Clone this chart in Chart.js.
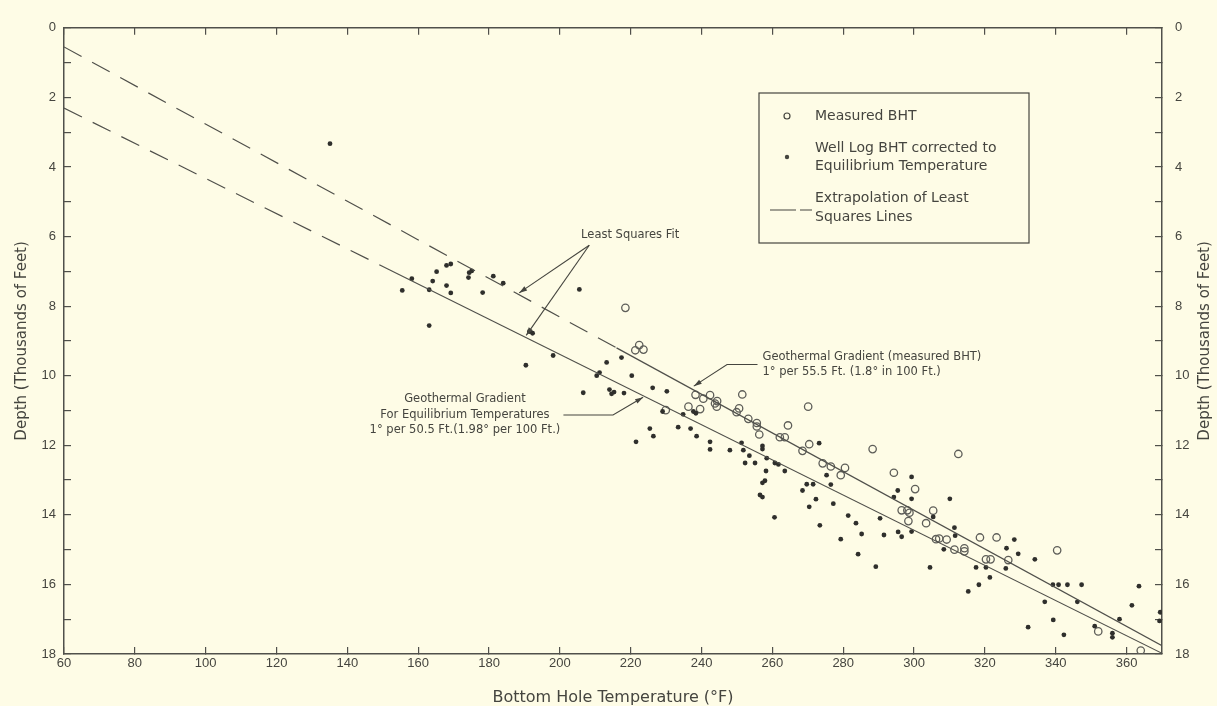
<!DOCTYPE html>
<html>
<head>
<meta charset="utf-8">
<script src="https://cdn.jsdelivr.net/npm/chart.js@4.4.1/dist/chart.umd.min.js"></script>
<style>
  html, body { margin: 0; padding: 0; background: #fefce6; }
  canvas { display: block; }
</style>
</head>
<body>
<canvas id="bht" width="1217" height="706"></canvas>
<script>
// Measured BHT (open circles): temperature (°F) / depth (thousands of ft)
const measuredT = [218.5, 221.3, 222.4, 223.6, 229.9, 236.3, 238.3, 239.6, 240.5, 242.4,
  243.8, 244.4, 244.3, 249.9, 250.6, 251.5, 253.2, 255.6, 255.6, 256.3,
  262.1, 263.5, 264.4, 268.5, 270.1, 270.4, 274.2, 276.5, 279.3, 280.5,
  288.3, 294.3, 296.5, 298.1, 298.7, 298.4, 300.3, 303.4, 305.4, 306.2,
  307.1, 309.2, 311.4, 312.5, 314.2, 314.2, 318.6, 320.3, 321.6, 323.3,
  326.6, 340.4, 352.0, 364.0];
const measuredD = [8.05, 9.27, 9.12, 9.25, 10.99, 10.89, 10.55, 10.96, 10.66, 10.56,
  10.80, 10.73, 10.89, 11.05, 10.94, 10.54, 11.24, 11.36, 11.46, 11.69,
  11.77, 11.77, 11.43, 12.16, 10.89, 11.97, 12.52, 12.61, 12.86, 12.65,
  12.11, 12.79, 13.87, 13.87, 13.94, 14.18, 13.26, 14.24, 13.88, 14.70,
  14.68, 14.71, 15.00, 12.25, 14.96, 15.05, 14.65, 15.28, 15.28, 14.65,
  15.30, 15.02, 17.35, 17.90];

// Well log BHT corrected to equilibrium (dots)
const equilT = [135.1, 155.5, 158.2, 163.1, 164.1, 165.2, 168.0, 169.2, 168.0, 169.2,
  174.2, 174.4, 175.1, 178.2, 181.2, 184.0, 163.1, 191.4, 192.3, 198.1,
  190.4, 205.5, 206.6, 210.4, 211.2, 213.2, 217.4, 214.0, 214.6, 215.3,
  218.1, 220.3, 226.2, 230.2, 229.0, 234.8, 237.7, 238.4, 225.4, 226.4,
  221.5, 233.4, 236.9, 238.6, 242.4, 242.4, 248.0, 251.3, 251.8, 253.5,
  252.3, 255.1, 257.2, 257.2, 258.4, 258.2, 257.2, 257.9, 256.5, 257.2,
  260.7, 261.7, 263.5, 268.5, 269.7, 260.6, 270.4, 273.2, 271.5, 272.3,
  275.3, 276.5, 277.2, 273.4, 279.3, 281.4, 283.6, 285.2, 284.2, 289.2,
  290.4, 291.5, 294.3, 295.4, 295.5, 296.5, 299.3, 299.3, 299.3, 304.5,
  305.4, 308.4, 310.1, 311.4, 311.6, 315.3, 317.5, 318.3, 320.3, 321.4,
  326.1, 325.9, 328.3, 329.4, 334.1, 336.9, 332.2, 339.2, 340.8, 343.3,
  347.3, 346.1, 339.3, 342.3, 351.0, 356.0, 356.0, 358.0, 361.5, 363.5,
  369.3, 369.5];
const equilD = [3.33, 7.55, 7.21, 7.53, 7.28, 7.01, 6.83, 6.79, 7.41, 7.62,
  7.18, 7.04, 6.99, 7.61, 7.14, 7.34, 8.56, 8.73, 8.78, 9.42,
  9.70, 7.52, 10.49, 10.00, 9.91, 9.62, 9.48, 10.40, 10.52, 10.47,
  10.50, 10.00, 10.35, 10.45, 11.03, 11.11, 11.03, 11.08, 11.52, 11.74,
  11.90, 11.48, 11.52, 11.74, 11.90, 12.12, 12.14, 11.93, 12.14, 12.30,
  12.51, 12.51, 12.02, 12.11, 12.37, 12.74, 13.08, 13.02, 13.43, 13.49,
  12.51, 12.55, 12.74, 13.30, 13.12, 14.07, 13.77, 11.94, 13.12, 13.55,
  12.86, 13.13, 13.68, 14.30, 14.70, 14.02, 14.24, 14.55, 15.13, 15.49,
  14.10, 14.58, 13.49, 13.30, 14.49, 14.63, 12.91, 13.54, 14.48, 15.51,
  14.06, 14.99, 13.54, 14.37, 14.60, 16.20, 15.51, 16.01, 15.51, 15.80,
  14.96, 15.54, 14.71, 15.12, 15.28, 16.50, 17.23, 16.01, 16.01, 16.01,
  16.01, 16.50, 17.02, 17.45, 17.20, 17.40, 17.52, 17.00, 16.60, 16.05,
  17.05, 16.80];

// Least squares lines (solid part) and their extrapolations (dashed)
const measuredFitT = [216, 370];
const measuredFitD = [9.20, 17.76];
const measuredExtT = [60, 216];
const measuredExtD = [0.55, 9.20];
const equilFitT = [152, 370];
const equilFitD = [6.96, 17.98];
const equilExtT = [60, 152];
const equilExtD = [2.31, 6.96];

const xTickValues = [60, 80, 100, 120, 140, 160, 180, 200, 220, 240, 260, 280, 300, 320, 340, 360];
const yTickValues = [0, 1, 2, 3, 4, 5, 6, 7, 8, 9, 10, 11, 12, 13, 14, 15, 16, 17, 18];

const ink = '#45453f';
const axisInk = '#50504b';

const pts = (xs, ys) => xs.map((v, i) => ({ x: v, y: ys[i] }));

const tickFont = { family: 'Liberation Sans', size: 13 };
const titleFont = { family: 'DejaVu Sans', size: 15, lineHeight: 1 };

const frame = (pos) => ({
  position: pos,
  grid: { drawOnChartArea: false, drawTicks: true, tickLength: -7, color: axisInk, lineWidth: 1.2 },
  border: { display: true, color: axisInk, width: 1.5 },
});

const notesPlugin = {
  id: 'notes',
  afterDatasetsDraw(chart) {
    const { ctx } = chart;
    const sx = chart.scales.x;
    const sy = chart.scales.y;
    const px = (t) => sx.getPixelForValue(t);
    const py = (d) => sy.getPixelForValue(d);

    ctx.save();
    ctx.strokeStyle = ink;
    ctx.fillStyle = ink;
    ctx.lineWidth = 1.1;
    ctx.textBaseline = 'middle';

    const arrow = (path) => {
      ctx.beginPath();
      path.forEach(([t, d], i) => {
        if (i === 0) ctx.moveTo(px(t), py(d));
        else ctx.lineTo(px(t), py(d));
      });
      ctx.stroke();
      const [t1, d1] = path[path.length - 2];
      const [t2, d2] = path[path.length - 1];
      const x2 = px(t2), y2 = py(d2);
      const a = Math.atan2(y2 - py(d1), x2 - px(t1));
      ctx.beginPath();
      ctx.moveTo(x2, y2);
      ctx.lineTo(x2 - 8 * Math.cos(a) + 2.5 * Math.sin(a), y2 - 8 * Math.sin(a) - 2.5 * Math.cos(a));
      ctx.lineTo(x2 - 8 * Math.cos(a) - 2.5 * Math.sin(a), y2 - 8 * Math.sin(a) + 2.5 * Math.cos(a));
      ctx.closePath();
      ctx.fill();
    };

    // Least Squares Fit
    ctx.font = '11.5px "DejaVu Sans"';
    ctx.textAlign = 'left';
    ctx.fillText('Least Squares Fit', px(206), py(5.95));
    arrow([[208.3, 6.25], [188.5, 7.62]]);
    arrow([[208.3, 6.25], [190.5, 8.84]]);

    // measured BHT gradient
    ctx.fillText('Geothermal Gradient (measured BHT)', px(257.2), py(9.45));
    ctx.fillText('1° per 55.5 Ft. (1.8° in 100 Ft.)', px(257.2), py(9.9));
    arrow([[255.8, 9.68], [247.2, 9.68], [237.8, 10.3]]);

    // equilibrium gradient
    ctx.textAlign = 'center';
    ctx.fillText('Geothermal Gradient', px(173.2), py(10.68));
    ctx.fillText('For Equilibrium Temperatures', px(173.2), py(11.12));
    ctx.fillText('1° per 50.5 Ft.(1.98° per 100 Ft.)', px(173.2), py(11.55));
    arrow([[201, 11.13], [215, 11.13], [223.5, 10.62]]);

    // legend box
    const lx = 759, ly = 93, lw = 270, lh = 150;
    ctx.lineWidth = 1.2;
    ctx.strokeRect(lx, ly, lw, lh);
    ctx.font = '14px "DejaVu Sans"';
    ctx.textAlign = 'left';
    ctx.beginPath();
    ctx.arc(lx + 28, ly + 23, 3, 0, Math.PI * 2);
    ctx.stroke();
    ctx.fillText('Measured BHT', lx + 56, ly + 23);
    ctx.beginPath();
    ctx.arc(lx + 28, ly + 64, 2.2, 0, Math.PI * 2);
    ctx.fill();
    ctx.fillText('Well Log BHT corrected to', lx + 56, ly + 55);
    ctx.fillText('Equilibrium Temperature', lx + 56, ly + 73);
    ctx.beginPath();
    ctx.moveTo(lx + 11, ly + 117);
    ctx.lineTo(lx + 37, ly + 117);
    ctx.moveTo(lx + 41, ly + 117);
    ctx.lineTo(lx + 53, ly + 117);
    ctx.stroke();
    ctx.fillText('Extrapolation of Least', lx + 56, ly + 105);
    ctx.fillText('Squares Lines', lx + 56, ly + 124);

    // right axis title, reading bottom to top like the left one
    ctx.font = '15px "DejaVu Sans"';
    ctx.textAlign = 'center';
    ctx.translate(1205, (chart.chartArea.top + chart.chartArea.bottom) / 2);
    ctx.rotate(-Math.PI / 2);
    ctx.fillText('Depth (Thousands of Feet)', 0, 0);
    ctx.restore();
  },
};

new Chart(document.getElementById('bht'), {
  type: 'scatter',
  data: {
    datasets: [
      {
        label: 'Least squares (measured)',
        data: pts(measuredFitT, measuredFitD),
        showLine: true, pointRadius: 0, borderColor: axisInk, borderWidth: 1.2,
      },
      {
        label: 'Extrapolation (measured)',
        data: pts(measuredExtT, measuredExtD),
        showLine: true, pointRadius: 0, borderColor: axisInk, borderWidth: 1.2, borderDash: [20, 12],
      },
      {
        label: 'Least squares (equilibrium)',
        data: pts(equilFitT, equilFitD),
        showLine: true, pointRadius: 0, borderColor: axisInk, borderWidth: 1.2,
      },
      {
        label: 'Extrapolation (equilibrium)',
        data: pts(equilExtT, equilExtD),
        showLine: true, pointRadius: 0, borderColor: axisInk, borderWidth: 1.2, borderDash: [20, 12],
      },
      {
        label: 'Well Log BHT corrected to Equilibrium Temperature',
        data: pts(equilT, equilD),
        pointRadius: 2.4, backgroundColor: '#2f2f2c', borderWidth: 0,
      },
      {
        label: 'Measured BHT',
        data: pts(measuredT, measuredD),
        pointRadius: 3.7, backgroundColor: 'rgba(0,0,0,0)', borderColor: '#5e5e59', borderWidth: 1.3,
      },
    ],
  },
  options: {
    responsive: false,
    animation: false,
    layout: { padding: { top: 15, left: 0, right: 0, bottom: 0 } },
    plugins: {
      legend: { display: false },
      tooltip: { enabled: false },
    },
    scales: {
      x: {
        ...frame('bottom'),
        type: 'linear',
        min: 60,
        max: 370,
        afterBuildTicks: (s) => { s.ticks = xTickValues.map((v) => ({ value: v })); },
        afterFit: (s) => { s.height = 52; },
        ticks: { font: tickFont, color: ink, padding: 9, autoSkip: false, maxRotation: 0 },
        title: {
          display: true,
          text: 'Bottom Hole Temperature (°F)',
          font: { family: 'DejaVu Sans', size: 16, lineHeight: 1 },
          color: ink,
          padding: { top: 0, bottom: 0 },
        },
      },
      xTop: {
        ...frame('top'),
        type: 'linear',
        min: 60,
        max: 370,
        afterBuildTicks: (s) => { s.ticks = xTickValues.map((v) => ({ value: v })); },
        afterFit: (s) => { s.height = 0; },
        ticks: { display: false },
      },
      y: {
        ...frame('left'),
        type: 'linear',
        min: 0,
        max: 18,
        reverse: true,
        afterBuildTicks: (s) => { s.ticks = yTickValues.map((v) => ({ value: v })); },
        afterFit: (s) => { s.width = 64; },
        ticks: {
          font: tickFont, color: ink, padding: 15, autoSkip: false,
          callback: (v) => (v % 2 === 0 ? String(v) : ''),
        },
        title: {
          display: true,
          text: 'Depth (Thousands of Feet)',
          font: titleFont,
          color: ink,
          padding: { top: 14.5, bottom: 0 },
        },
      },
      yRight: {
        ...frame('right'),
        type: 'linear',
        min: 0,
        max: 18,
        reverse: true,
        afterBuildTicks: (s) => { s.ticks = yTickValues.map((v) => ({ value: v })); },
        afterFit: (s) => { s.width = 55; },
        ticks: {
          font: tickFont, color: ink, padding: 20, autoSkip: false,
          callback: (v) => (v % 2 === 0 ? String(v) : ''),
        },
      },
    },
  },
  plugins: [notesPlugin],
});
</script>
</body>
</html>
